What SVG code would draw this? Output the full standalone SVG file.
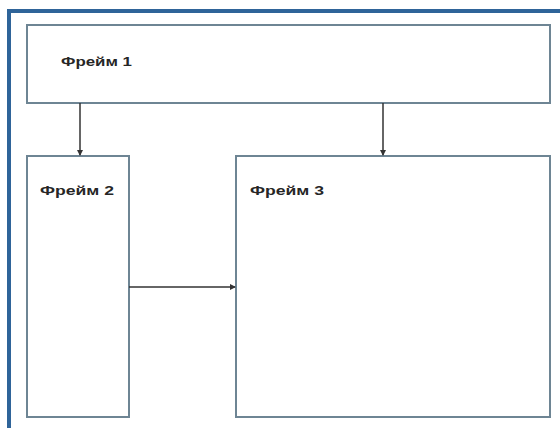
<svg xmlns="http://www.w3.org/2000/svg" width="560" height="428" viewBox="0 0 560 428">
<style>
.frame{fill:#ffffff;stroke:#6e8594;stroke-width:2}
.lbl{font-family:"Liberation Sans",Arial,sans-serif;font-weight:bold;font-size:13px;fill:#262626}
.conn{stroke:#333333;stroke-width:1.5;fill:none}
</style>
<defs>
<marker id="ah" markerWidth="6" markerHeight="6" refX="5" refY="3" orient="auto" markerUnits="userSpaceOnUse">
<path d="M0,0 L6,3 L0,6 z" fill="#333333"/>
</marker>
</defs>
<rect x="0" y="0" width="560" height="428" fill="#ffffff"/>
<g id="border">
<rect x="7" y="9" width="553" height="4" fill="#2f6499"/>
<rect x="7" y="9" width="4" height="419" fill="#2f6499"/>
</g>
<g id="frame1">
<rect class="frame" x="27" y="25" width="523" height="78"/>
<text class="lbl" x="61" y="66" textLength="71" lengthAdjust="spacingAndGlyphs">Фрейм 1</text>
</g>
<g id="frame2">
<rect class="frame" x="27" y="156" width="102" height="261"/>
<text class="lbl" x="40" y="195" textLength="74" lengthAdjust="spacingAndGlyphs">Фрейм 2</text>
</g>
<g id="frame3">
<rect class="frame" x="236" y="156" width="314" height="261"/>
<text class="lbl" x="250" y="195" textLength="74" lengthAdjust="spacingAndGlyphs">Фрейм 3</text>
</g>
<g id="connectors">
<line class="conn" x1="80" y1="103" x2="80" y2="155" marker-end="url(#ah)"/>
<line class="conn" x1="383" y1="103" x2="383" y2="155" marker-end="url(#ah)"/>
<line class="conn" x1="129" y1="287" x2="235" y2="287" marker-end="url(#ah)"/>
</g>
</svg>
